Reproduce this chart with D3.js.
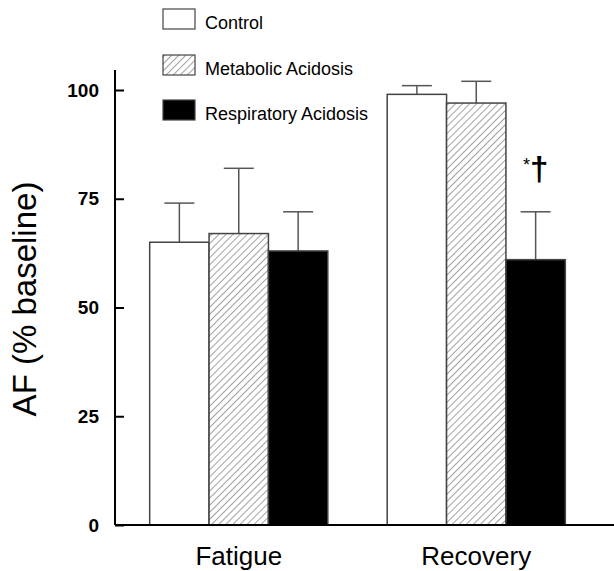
<!DOCTYPE html>
<html>
<head>
<meta charset="utf-8">
<script src="https://cdn.jsdelivr.net/npm/d3@7/dist/d3.min.js"></script>
<style>
  body { margin: 0; background: #fff; }
  svg { display: block; font-family: Arial, "Liberation Sans", sans-serif; }
</style>
</head>
<body>
<svg id="chart" width="614" height="571"></svg>
<script>
// data
const groups = ['Fatigue', 'Recovery'];
const series = ['Control', 'Metabolic Acidosis', 'Respiratory Acidosis'];
const means = [
  [65, 67, 63],   // Fatigue
  [99, 97, 61]    // Recovery
];
const errors = [
  [9, 15, 9],
  [2, 5, 11]
];
const yTicks = [0, 25, 50, 75, 100];
const marks = [{ group: 'Recovery', series: 'Respiratory Acidosis', star: '*', dagger: '\u2020' }];

const svg = d3.select('#chart');
const width = 614, height = 571;

const x = d3.scaleBand()
  .domain(groups)
  .range([120, 595])
  .paddingInner(0.25)
  .paddingOuter(0.125);

const xs = d3.scaleBand()
  .domain(series)
  .range([0, x.bandwidth()]);

const y = d3.scaleLinear()
  .domain([0, 100])
  .range([525, 90]);

// hatch pattern for metabolic acidosis
const defs = svg.append('defs');
defs.append('pattern')
  .attr('id', 'hatch')
  .attr('patternUnits', 'userSpaceOnUse')
  .attr('width', 5)
  .attr('height', 5)
  .attr('patternTransform', 'rotate(45)')
  .call(p => {
    p.append('rect').attr('width', 5).attr('height', 5).attr('fill', '#fff');
    p.append('line')
      .attr('x1', 0).attr('y1', 0).attr('x2', 0).attr('y2', 5)
      .attr('stroke', '#444').attr('stroke-width', 1);
  });

const fills = { 'Control': '#fff', 'Metabolic Acidosis': 'url(#hatch)', 'Respiratory Acidosis': '#000' };

const rows = [];
groups.forEach((g, gi) => {
  series.forEach((s, si) => {
    rows.push({ group: g, series: s, value: means[gi][si], err: errors[gi][si] });
  });
});

// error bars (upper only), drawn behind bars
const eb = svg.append('g')
  .attr('stroke', '#555')
  .attr('stroke-width', 1.5);

rows.forEach(d => {
  const cx = x(d.group) + xs(d.series) + xs.bandwidth() / 2;
  eb.append('line')
    .attr('x1', cx).attr('x2', cx)
    .attr('y1', y(d.value)).attr('y2', y(d.value + d.err));
  eb.append('line')
    .attr('x1', cx - 15).attr('x2', cx + 15)
    .attr('y1', y(d.value + d.err)).attr('y2', y(d.value + d.err));
});

// bars
svg.append('g')
  .selectAll('rect')
  .data(rows)
  .join('rect')
  .attr('x', d => x(d.group) + xs(d.series))
  .attr('y', d => y(d.value))
  .attr('width', xs.bandwidth())
  .attr('height', d => y(0) - y(d.value))
  .attr('fill', d => fills[d.series])
  .attr('stroke', '#444')
  .attr('stroke-width', 1.5);

// y axis
const yAxis = svg.append('g')
  .attr('transform', `translate(115,0)`)
  .call(d3.axisLeft(y).tickValues(yTicks).tickSize(-9).tickSizeOuter(0).tickPadding(16));

yAxis.select('.domain').remove();
yAxis.append('line')
  .attr('x1', 0).attr('x2', 0)
  .attr('y1', y(0)).attr('y2', y(104.6))
  .attr('stroke', '#000').attr('stroke-width', 2);
yAxis.selectAll('.tick line').attr('stroke', '#000').attr('stroke-width', 2);
yAxis.selectAll('.tick text')
  .attr('fill', '#000')
  .attr('font-family', 'Arial, "Liberation Sans", sans-serif')
  .attr('font-size', 19)
  .attr('font-weight', 'bold');

// x axis
svg.append('line')
  .attr('x1', 115).attr('x2', width)
  .attr('y1', y(0)).attr('y2', y(0))
  .attr('stroke', '#000').attr('stroke-width', 2);

svg.append('g')
  .selectAll('text')
  .data(groups)
  .join('text')
  .attr('x', d => x(d) + x.bandwidth() / 2)
  .attr('y', 565)
  .attr('text-anchor', 'middle')
  .attr('font-size', 26)
  .text(d => d);

// y title
svg.append('text')
  .attr('transform', 'translate(36,299) rotate(-90)')
  .attr('text-anchor', 'middle')
  .attr('font-size', 33)
  .text('AF (% baseline)');

// significance marks
marks.forEach(m => {
  const cx = x(m.group) + xs(m.series) + xs.bandwidth() / 2;
  const t = svg.append('text')
    .attr('x', cx)
    .attr('y', 180)
    .attr('text-anchor', 'middle');
  t.append('tspan').attr('font-size', 18).attr('dy', -9).text(m.star);
  t.append('tspan').attr('font-size', 33).attr('font-weight', 'bold').attr('dy', 9).text(m.dagger);
});

// legend
const legendY = [9, 55, 100];
const legend = svg.append('g');
series.forEach((s, i) => {
  legend.append('rect')
    .attr('x', 163).attr('y', legendY[i])
    .attr('width', 32).attr('height', 20)
    .attr('fill', fills[s])
    .attr('stroke', '#444')
    .attr('stroke-width', 1.2);
  legend.append('text')
    .attr('x', 205).attr('y', legendY[i] + 20)
    .attr('font-size', 18)
    .text(s);
});
</script>
</body>
</html>
